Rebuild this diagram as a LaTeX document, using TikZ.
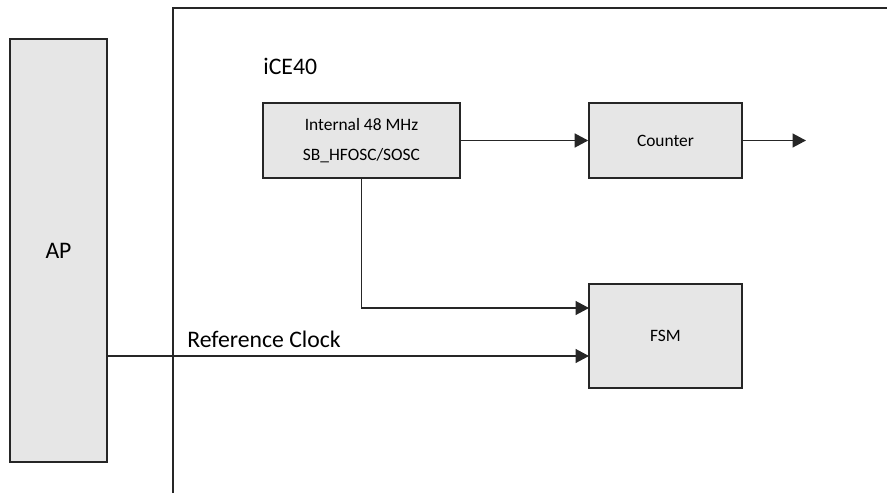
\documentclass[tikz,border=0pt]{standalone}
\usepackage{fontspec}
\setmainfont{Carlito}
\usetikzlibrary{arrows.meta}
\definecolor{boxgray}{HTML}{E6E6E6}
\definecolor{edgegray}{HTML}{262626}
\tikzset{
  blk/.style={draw=edgegray,fill=boxgray,line width=0.9pt,inner sep=0pt,align=center,font=\fontsize{9.9}{17}\selectfont},
  sig/.style={draw=edgegray,line width=0.8pt,-{Triangle[length=0.27cm,width=0.28cm]}},
  bigtxt/.style={font=\fontsize{13.5}{15}\selectfont},
}
\begin{document}
\begin{tikzpicture}
\useasboundingbox (0,0) rectangle (17.74,9.86);

%AP
\node[blk,bigtxt,minimum width=1.94cm,minimum height=8.46cm] (ap) at (1.17,4.85) {AP};

%iCE40 frame
\draw[edgegray,line width=0.9pt] (3.46,0) -- (3.46,9.70) -- (17.74,9.70);
\node[bigtxt,anchor=base west,inner sep=0pt] (ice) at (5.26,8.38) {iCE40};

%blocks
\node[blk,minimum width=3.94cm,minimum height=1.5cm] (osc) at (7.23,7.05) {Internal 48 MHz\\SB\_HFOSC/SOSC};
\node[blk,minimum width=3.06cm,minimum height=1.5cm] (cnt) at (13.31,7.05) {Counter};
\node[blk,minimum width=3.06cm,minimum height=2.08cm] (fsm) at (13.31,3.14) {FSM};

\coordinate (cntout) at (16.12,7.05);
\coordinate (fsmosc) at (11.78,3.70);
\coordinate (fsmref) at (11.78,2.74);

%signals
\draw[sig] (osc) -- (cnt);
\draw[sig] (cnt) -- (cntout);
\draw[sig] (osc.south) |- (fsmosc);
\draw[sig] (ap.east |- fsmref) -- (fsmref);
\node[bigtxt,anchor=base west,inner sep=0pt] (refclk) at (3.74,2.92) {Reference Clock};
\end{tikzpicture}
\end{document}
